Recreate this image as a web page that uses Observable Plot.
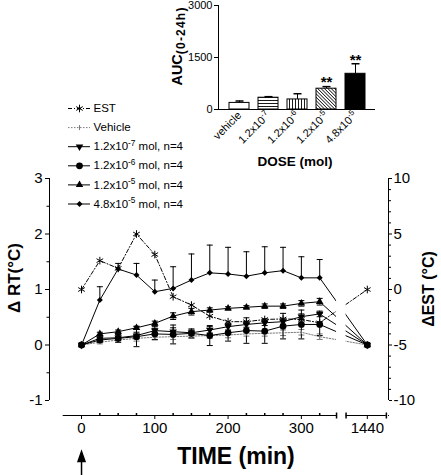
<!DOCTYPE html>
<html>
<head>
<meta charset="utf-8">
<script src="https://cdn.jsdelivr.net/npm/d3@7"></script>
<script src="https://cdn.jsdelivr.net/npm/@observablehq/plot@0.6"></script>
<style>
  html, body { margin: 0; padding: 0; background: #fff; }
  #wrap { position: relative; width: 441px; height: 475px; overflow: hidden; font-family: "Liberation Sans", Arial, Helvetica, sans-serif; color: #000; }
  #wrap svg { position: absolute; }
  .lbl { position: absolute; font-weight: bold; white-space: nowrap; line-height: 1; transform-origin: center center; }
</style>
</head>
<body>
<div id="wrap">
  <div class="lbl" style="left:14px;top:278px;font-size:17px;transform:translate(-50%,-50%) rotate(-90deg);">Δ RT(°C)</div>
  <div class="lbl" style="left:429px;top:289px;font-size:16px;transform:translate(-50%,-50%) rotate(-90deg);">ΔEST (°C)</div>
  <div class="lbl" style="left:236px;top:456px;font-size:23px;transform:translate(-50%,-50%);">TIME (min)</div>
  <div class="lbl" style="left:295px;top:162px;font-size:13.5px;transform:translate(-50%,-50%);">DOSE (mol)</div>
  <div class="lbl" style="left:178px;top:46px;font-size:14.5px;transform:translate(-50%,-50%) rotate(-90deg);">AUC<sub style="font-size:12px;letter-spacing:1.2px;vertical-align:-3px;">(0-24h)</sub></div>
</div>
<script>
// ================= DATA =================
const times = [0, 25, 50, 75, 100, 125, 150, 175, 200, 225, 250, 275, 300, 325];
const lateTime = 1440;

// EST (right axis, °C)
const estC     = [0, 2.6, 1.9, 5.0, 3.15, -0.65, -1.4, -2.4, -2.9, -2.9, -2.7, -2.65, -2.7, -3.0];
const estLateC = 0;

// ΔRT (left axis, °C)
const vehicleRT  = [0, 0.05, 0.09, 0.12, 0.14, 0.15, 0.16, 0.17, 0.18, 0.20, 0.21, 0.22, 0.23, 0.15];
const vehicleErr = [0, 0.03, 0.04, 0.05, 0.05, 0.05, 0.04, 0.05, 0.05, 0.04, 0.05, 0.05, 0.05, 0.05];
const dose7RT    = [0, 0.12, 0.13, 0.17, 0.26, 0.24, 0.22, 0.27, 0.33, 0.37, 0.40, 0.42, 0.51, 0.56];
const dose7Err   = [0, 0.04, 0.05, 0.06, 0.07, 0.07, 0.05, 0.06, 0.06, 0.05, 0.05, 0.05, 0.05, 0.05];
const dose6RT    = [0, 0.09, 0.12, 0.15, 0.20, 0.19, 0.21, 0.17, 0.22, 0.26, 0.25, 0.34, 0.37, 0.37];
const dose6Err   = [0, 0.04, 0.07, 0.18, 0.10, 0.17, 0.08, 0.18, 0.15, 0.23, 0.22, 0.23, 0.26, 0.20];
const dose5RT    = [0, 0.20, 0.24, 0.31, 0.39, 0.52, 0.60, 0.63, 0.66, 0.68, 0.70, 0.70, 0.75, 0.78];
const dose5Err   = [0, 0.03, 0.03, 0.03, 0.04, 0.06, 0.06, 0.04, 0.03, 0.03, 0.04, 0.04, 0.05, 0.06];
const dose48RT   = [0, 0.81, 1.37, 1.26, 0.96, 1.02, 1.17, 1.30, 1.28, 1.24, 1.30, 1.34, 1.21, 1.21];
const dose48Err  = [0, 0.24, 0.10, 0.21, 0.21, 0.39, 0.47, 0.50, 0.48, 0.44, 0.47, 0.42, 0.38, 0.33];
const lateRT = 0;

// Axis ticks
const xTicks = [0, 100, 200, 300, 1440];
const xMinor = [25, 50, 75, 125, 150, 175, 225, 250, 275, 325];
const rtTicks = [-1, 0, 1, 2, 3];
const rtMinor = [-0.5, 0.5, 1.5, 2.5];
const estTicks = [-10, -5, 0, 5, 10];
const estMinor = [-9, -8, -7, -6, -4, -3, -2, -1, 1, 2, 3, 4, 6, 7, 8, 9];

// Inset bar chart
const doseLabels = ["vehicle", "1.2x10^-7", "1.2x10^-6", "1.2x10^-5", "4.8x10^-5"];
const aucMean = [190, 340, 290, 600, 1030];
const aucErr  = [55, 30, 165, 60, 290];
const aucSig  = ["", "", "", "**", "**"];
const aucTicks = [0, 1500, 3000];

// Legend
const legendLabels = ["EST", "Vehicle", "1.2x10^-7 mol, n=4", "1.2x10^-6 mol, n=4", "1.2x10^-5 mol, n=4", "4.8x10^-5 mol, n=4"];
const injectionTimes = [0];

// ================= LAYOUT / SCALE CONFIG =================
const FONT = '"Liberation Sans", Arial, Helvetica, sans-serif';
const latePos = 390;                    // position of the 1440 min point on the broken axis
const xDomain = [-43.7, 418.9];
const rtDomain = [-1, 3];
const axisGaps = [{from: -43.7, to: -25}, {from: 348, to: 361}, {from: 416, to: 418.9}];
const xBreakEnds = [348, 361, 416];
const estToRT = c => (c + 5) / 5;
const rtToEst = r => r * 5 - 5;
const xPos = t => (t === lateTime ? latePos : t);

// custom symbols
const capSym = {draw(ctx, size) { const r = Math.sqrt(size / Math.PI); ctx.moveTo(-r, 0); ctx.lineTo(r, 0); }};
const tickSym = {draw(ctx, size) { const r = Math.sqrt(size / Math.PI); ctx.moveTo(0, -r); ctx.lineTo(0, r); }};
const tickUpSym = {draw(ctx, size) { const r = Math.sqrt(size / Math.PI); ctx.moveTo(0, 0); ctx.lineTo(0, -r); }};
const arrowSym = {draw(ctx, size) { const r = Math.sqrt(size / Math.PI); ctx.moveTo(0, 0); ctx.lineTo(-3.5, 10); ctx.lineTo(3.5, 10); ctx.closePath(); ctx.moveTo(0, 8); ctx.lineTo(0, r); }};

// series styles
const seriesDefs = [
  {vals: vehicleRT, errs: vehicleErr, stroke: "#7a7a7a", dash: "1.5,1.5", symbol: tickSym, r: 2, fill: "none", errDir: "both"},
  {vals: dose7RT, errs: dose7Err, stroke: "#000", dash: null, symbol: "triangle", rotate: 180, r: 2.8, fill: "#000", errDir: "both"},
  {vals: dose6RT, errs: dose6Err, stroke: "#000", dash: null, symbol: "circle", r: 3.4, fill: "#000", errDir: "both"},
  {vals: dose5RT, errs: dose5Err, stroke: "#000", dash: null, symbol: "triangle", r: 2.8, fill: "#000", errDir: "both"},
  {vals: dose48RT, errs: dose48Err, stroke: "#000", dash: null, symbol: "diamond2", r: 2.7, fill: "#000", errDir: "up"}
];
const estStyle = {stroke: "#000", dash: "4,2,1,2", symbol: "asterisk", r: 3.6};

function buildRows(vals, errs, late) {
  const rows = times.map((t, i) => ({t, v: vals[i], e: errs ? errs[i] : 0}));
  rows.push({t: lateTime, v: late, e: 0});
  return rows;
}

// ================= MAIN PLOT =================
const marks = [];
marks.push(Plot.frame({anchor: "bottom", stroke: "#000"}));
const estRows = buildRows(estC.map(estToRT), null, estToRT(estLateC));
for (const s of seriesDefs) {
  s.rows = buildRows(s.vals, s.errs, lateRT);
  marks.push(Plot.line(s.rows, {x: "t", y: "v", stroke: s.stroke, strokeWidth: 1, strokeDasharray: s.dash}));
}
marks.push(Plot.line(estRows, {x: "t", y: "v", stroke: estStyle.stroke, strokeWidth: 1, strokeDasharray: estStyle.dash}));
// gaps of the broken axis
marks.push(Plot.rect(axisGaps, {x1: "from", x2: "to", fill: "white", insetBottom: -2}));
// y axis lines
marks.push(Plot.ruleX([xDomain[0], xDomain[1]], {x: d => d, y1: rtDomain[0], y2: rtDomain[1], stroke: "#000"}));
// error bars
for (const s of seriesDefs) {
  const rows = s.rows.filter(d => d.e > 0);
  const lo = s.errDir === "up" ? (d => d.v) : (d => d.v - d.e);
  marks.push(Plot.ruleX(rows, {x: "t", y1: lo, y2: d => d.v + d.e, stroke: s.stroke, strokeWidth: 1}));
  marks.push(Plot.dot(rows, {x: "t", y: d => d.v + d.e, symbol: capSym, r: 3, stroke: s.stroke, fill: "none", strokeWidth: 1}));
  if (s.errDir !== "up") marks.push(Plot.dot(rows, {x: "t", y: lo, symbol: capSym, r: 3, stroke: s.stroke, fill: "none", strokeWidth: 1}));
}
// markers
for (const s of seriesDefs) {
  marks.push(Plot.dot(s.rows, {x: "t", y: "v", symbol: s.symbol, r: s.r, fill: s.fill, stroke: s.fill === "none" ? s.stroke : "none", rotate: s.rotate || 0, strokeWidth: 1}));
}
marks.push(Plot.dot(estRows, {x: "t", y: "v", symbol: estStyle.symbol, r: estStyle.r, stroke: "#000", fill: "none", strokeWidth: 1}));
// axes
marks.push(Plot.axisY(rtTicks, {anchor: "left", tickSize: 4, tickPadding: 3, fontSize: 15, tickFormat: d => String(d)}));
marks.push(Plot.axisY(rtMinor, {anchor: "left", tickSize: 2.5, tickFormat: () => ""}));
marks.push(Plot.axisY(estTicks.map(estToRT), {anchor: "right", tickSize: 3, tickPadding: 2, fontSize: 15, tickFormat: p => String(Math.round(rtToEst(p)))}));
marks.push(Plot.axisY(estMinor.map(estToRT), {anchor: "right", tickSize: 2, tickFormat: () => ""}));
marks.push(Plot.axisX(xTicks, {anchor: "bottom", tickSize: 4, tickPadding: 3, fontSize: 15, tickFormat: d => String(d)}));
marks.push(Plot.dot(xMinor, {x: d => d, frameAnchor: "bottom", symbol: tickUpSym, r: 2.5, stroke: "#000", fill: "none"}));
marks.push(Plot.dot(xBreakEnds, {x: d => d, frameAnchor: "bottom", symbol: tickSym, r: 3, stroke: "#000", fill: "none"}));
// injection arrow
marks.push(Plot.dot(injectionTimes, {x: d => d, frameAnchor: "bottom", dy: 36, symbol: arrowSym, r: 30, fill: "#000", stroke: "#000", strokeWidth: 1.5}));

const main = Plot.plot({
  width: 441, height: 475,
  marginTop: 178, marginBottom: 60, marginLeft: 49, marginRight: 53,
  style: {fontFamily: FONT, background: "transparent", color: "#000", overflow: "visible"},
  x: {domain: xDomain, transform: xPos, label: null},
  y: {domain: rtDomain, range: [400, 178], label: null},
  marks
});

// ================= INSET BAR CHART =================
const aucRows = doseLabels.map((dose, i) => ({dose, mean: aucMean[i], err: aucErr[i], sig: aucSig[i]}));
const barFills = ["white", "url(#hatchH)", "url(#hatchV)", "url(#hatchD)", "black"];
const insetMarks = aucRows.map((row, i) => Plot.barY([row], {x: "dose", y: "mean", fill: barFills[i], stroke: "#000", strokeWidth: 1}));
insetMarks.push(
  Plot.ruleX(aucRows, {x: "dose", y1: "mean", y2: d => d.mean + d.err, stroke: "#000", strokeWidth: 1}),
  Plot.dot(aucRows, {x: "dose", y: d => d.mean + d.err, symbol: capSym, r: 4, stroke: "#000", fill: "none"}),
  Plot.text(aucRows.filter(d => d.sig), {x: "dose", y: d => d.mean + d.err, text: "sig", dy: -4, fontSize: 15, fontWeight: "bold", fill: "#000"}),
  Plot.frame({anchor: "left", stroke: "#000"}),
  Plot.ruleY([0], {stroke: "#000"}),
  Plot.axisY(aucTicks, {anchor: "left", tickSize: 4, tickPadding: 2, fontSize: 11, tickFormat: d => String(d)}),
  Plot.axisX({anchor: "bottom", tickSize: 0, tickPadding: 4, tickRotate: -45, fontSize: 11, tickFormat: d => d})
);
const inset = Plot.plot({
  width: 441, height: 160,
  marginTop: 5, marginBottom: 51, marginLeft: 218, marginRight: 66,
  style: {fontFamily: FONT, background: "transparent", color: "#000", overflow: "visible"},
  x: {type: "band", domain: doseLabels, paddingInner: 0.316, paddingOuter: 0.342, label: null},
  y: {domain: [0, 3000], label: null},
  marks: insetMarks
});
d3.select(inset).insert("defs", ":first-child").html(`
  <pattern id="hatchH" patternUnits="userSpaceOnUse" width="4" height="3"><rect width="4" height="3" fill="white"/><path d="M0,1.5H4" stroke="black" stroke-width="0.9"/></pattern>
  <pattern id="hatchV" patternUnits="userSpaceOnUse" width="3" height="4"><rect width="3" height="4" fill="white"/><path d="M1.5,0V4" stroke="black" stroke-width="0.9"/></pattern>
  <pattern id="hatchD" patternUnits="userSpaceOnUse" width="2.4" height="4" patternTransform="rotate(-45)"><rect width="2.4" height="4" fill="white"/><path d="M1.2,0V4" stroke="black" stroke-width="0.8"/></pattern>
`);

// ================= LEGEND =================
const legendRows = legendLabels.map((label, i) => ({label, i}));
const legendStyles = [
  {stroke: "#000", dash: "4,2,1,2", symbol: "asterisk", r: 3.6, fill: "none"},
  {stroke: "#7a7a7a", dash: "1.5,1.5", symbol: tickSym, r: 2.5, fill: "none"},
  {stroke: "#000", dash: null, symbol: "triangle", rotate: 180, r: 2.8, fill: "#000"},
  {stroke: "#000", dash: null, symbol: "circle", r: 3.4, fill: "#000"},
  {stroke: "#000", dash: null, symbol: "triangle", r: 2.8, fill: "#000"},
  {stroke: "#000", dash: null, symbol: "diamond2", r: 2.7, fill: "#000"}
];
const legendMarks = [];
legendRows.forEach((row, k) => {
  const st = legendStyles[k];
  legendMarks.push(Plot.ruleY([row], {y: "i", x1: 0, x2: 1, stroke: st.stroke, strokeDasharray: st.dash, strokeWidth: 1}));
  legendMarks.push(Plot.dot([row], {x: 0.5, y: "i", symbol: st.symbol, r: st.r, rotate: st.rotate || 0,
    fill: st.fill, stroke: st.fill === "none" ? st.stroke : "none", strokeWidth: 1}));
});
legendMarks.push(Plot.text(legendRows, {x: 1, y: "i", text: "label", dx: 3, textAnchor: "start", fontSize: 11.5, fill: "#000"}));
const legend = Plot.plot({
  width: 200, height: 120, margin: 0,
  style: {fontFamily: FONT, background: "transparent", color: "#000", overflow: "visible"},
  x: {domain: [0, 1], range: [68, 90], axis: null},
  y: {domain: [0, 5], range: [13, 108.5], axis: null},
  marks: legendMarks
});

// superscripts written as a^b in labels
function supify(svg) {
  const NS = "http://www.w3.org/2000/svg";
  svg.querySelectorAll("text").forEach(t => {
    const holders = t.querySelector("tspan") ? Array.from(t.querySelectorAll("tspan")) : [t];
    holders.forEach(h => {
      const m = /^(.*?)\^(-?\d+)(.*)$/.exec(h.textContent);
      if (!m) return;
      h.textContent = "";
      h.appendChild(document.createTextNode(m[1]));
      const sup = document.createElementNS(NS, "tspan");
      sup.setAttribute("font-size", "0.72em");
      sup.setAttribute("dy", "-0.55em");
      sup.textContent = m[2];
      h.appendChild(sup);
      if (m[3]) {
        const rest = document.createElementNS(NS, "tspan");
        rest.setAttribute("dy", "0.396em");
        rest.textContent = m[3];
        h.appendChild(rest);
      }
    });
  });
}
supify(inset);
supify(legend);

const wrap = document.getElementById("wrap");
main.style.left = "0px"; main.style.top = "0px";
inset.style.left = "0px"; inset.style.top = "0px";
legend.style.left = "0px"; legend.style.top = "95px";
wrap.prepend(legend);
wrap.prepend(inset);
wrap.prepend(main);
</script>
</body>
</html>
